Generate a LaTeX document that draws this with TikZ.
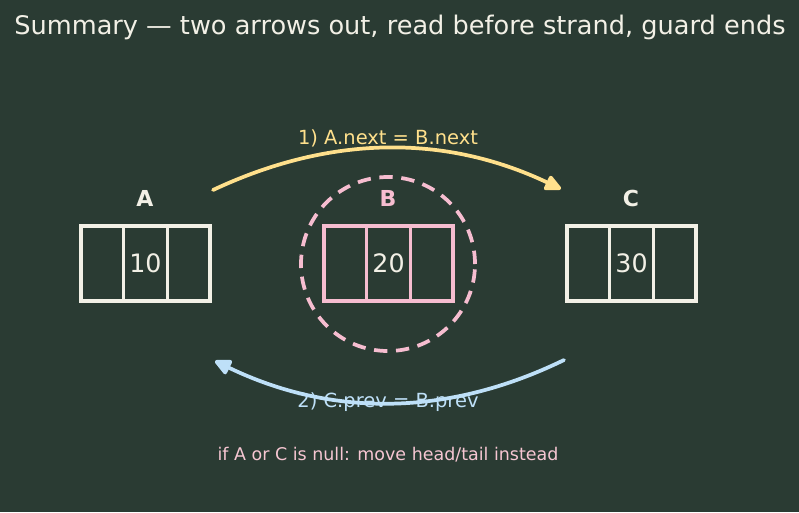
\documentclass[tikz,border=0pt]{standalone}
\usepackage{fontspec}
\setmainfont{DejaVu Sans}
\usetikzlibrary{arrows.meta,calc}
\definecolor{bg}{HTML}{2A3B33}
\definecolor{ink}{HTML}{F2F0E6}
\definecolor{rosebox}{HTML}{F6BDD0}
\definecolor{gold}{HTML}{FFE08C}
\definecolor{sky}{HTML}{BEE0F8}
\definecolor{rosenote}{HTML}{F6C6D2}
\tikzset{
  cellbox/.style={draw, line width=2.8pt, minimum width=96.75pt, minimum height=56.25pt, inner sep=0pt, font=\fontsize{19}{21}\selectfont},
  cellrule/.style={line width=1.8pt},
  headlabel/.style={font=\fontsize{16.5}{19}\selectfont\bfseries},
  ring/.style={draw=rosebox, circle, line width=2.8pt, dash pattern=on 10pt off 6.5pt, minimum size=130.5pt, inner sep=0pt},
  linkup/.style={draw=gold, line width=2.8pt, line cap=round, -{Triangle[length=14pt,width=12.5pt,round]}},
  linkdown/.style={draw=sky, line width=2.8pt, line cap=round, -{Triangle[length=14pt,width=12.5pt,round]}},
  linknote/.style={font=\fontsize{14.6}{16}\selectfont},
}

\begin{document}
\begin{tikzpicture}[x=0.75pt, y=-0.75pt]
\fill[bg] (0,0) rectangle (799,512);
\useasboundingbox (0,0) rectangle (799,512);
\node[text=ink, font=\fontsize{19.2}{22}\selectfont] (title) at (400,27) {Summary — two arrows out, read before strand, guard ends};
% the three list cells
\node[cellbox, draw=ink, text=ink] (A) at (145.5,263.5) {10};
\node[cellbox, draw=rosebox, text=ink] (B) at (388.5,263.5) {20};
\node[cellbox, draw=ink, text=ink] (C) at (631.5,263.5) {30};
\foreach \n/\c in {A/ink, B/rosebox, C/ink} {
  \foreach \k in {1,2}
    \draw[cellrule, \c] ($(\n.north west)!\k/3!(\n.north east)$) -- ($(\n.south west)!\k/3!(\n.south east)$);
}
\node[headlabel, text=ink] (Alab) at (145,198) {A};
\node[headlabel, text=rosebox] (Blab) at (388,198) {B};
\node[headlabel, text=ink] (Clab) at (631,198) {C};
\node[ring] (Bring) at (388,264) {};
% arrows
\coordinate (Aout) at (213,190);
\coordinate (Cin) at (561,189);
\coordinate (Cout) at (564,360);
\coordinate (Ain) at (215,361);
\node[linknote, text=gold] (nextlab) at (388,138) {1) A.next = B.next};
\draw[linkup] (Aout) .. controls (330,135) and (445,134) .. (Cin);
\node[linknote, text=sky] (prevlab) at (388,402) {2) C.prev = B.prev};
\draw[linkdown] (Cout) .. controls (447,417) and (331,417) .. (Ain);
\node[font=\fontsize{13.1}{15}\selectfont, text=rosenote] (note) at (388,455) {if A or C is null: move head/tail instead};
\end{tikzpicture}
\end{document}
